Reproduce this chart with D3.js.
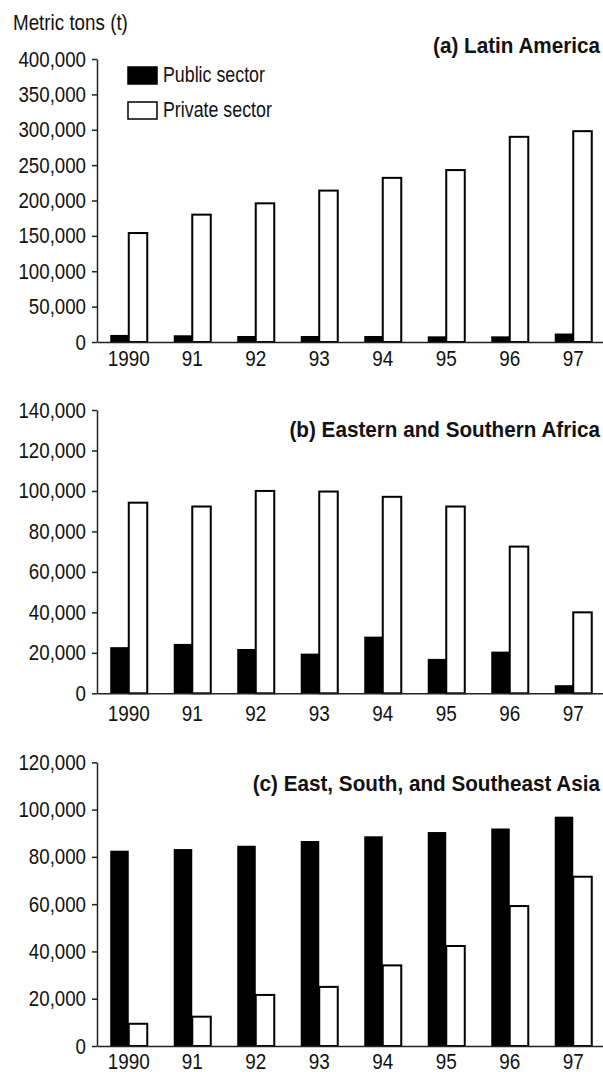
<!DOCTYPE html>
<html>
<head>
<meta charset="utf-8">
<script src="https://cdn.jsdelivr.net/npm/d3@7"></script>
<style>
  html, body { margin: 0; padding: 0; background: #fff; }
  svg { display: block; }
  text { font-family: "Liberation Sans", Arial, sans-serif; fill: #111; }
</style>
</head>
<body>
<svg id="chart" width="603" height="1072"></svg>
<script>
// Fertilizer deliveries by sector, metric tons
const years = ["1990", "91", "92", "93", "94", "95", "96", "97"];
const sectors = ["Public sector", "Private sector"];

const latinPublic   = [10000, 9500, 8500, 8500, 8500, 8000, 8000, 12000];
const latinPrivate  = [154000, 180000, 196000, 214000, 232000, 243000, 290000, 298000];

const africaPublic  = [22800, 24400, 21900, 19600, 28000, 17000, 20600, 4000];
const africaPrivate = [94200, 92300, 100000, 99700, 97100, 92300, 72500, 40000];

const asiaPublic    = [82600, 83300, 84700, 86700, 88700, 90500, 92000, 97000];
const asiaPrivate   = [9400, 12400, 21600, 25000, 34100, 42300, 59200, 71600];

const latinTicks  = [0, 50000, 100000, 150000, 200000, 250000, 300000, 350000, 400000];
const africaTicks = [0, 20000, 40000, 60000, 80000, 100000, 120000, 140000];
const asiaTicks   = [0, 20000, 40000, 60000, 80000, 100000, 120000];

const panels = [
  { title: "(a) Latin America", pub: latinPublic, priv: latinPrivate, ticks: latinTicks,
    top: 59, zero: 342, titleY: 53, yearY: 24 },
  { title: "(b) Eastern and Southern Africa", pub: africaPublic, priv: africaPrivate, ticks: africaTicks,
    top: 410, zero: 693.3, titleY: 437, yearY: 28 },
  { title: "(c) East, South, and Southeast Asia", pub: asiaPublic, priv: asiaPrivate, ticks: asiaTicks,
    top: 762.3, zero: 1046, titleY: 791, yearY: 23 }
];

const svg = d3.select("#chart");
const axisX = 97, rightX = 605;
const fmt = d3.format(",");
const FONT = 22;

// Narrow the glyphs horizontally to get a condensed face
function condense(sel, k, xPos) {
  sel.attr("transform", `scale(${k},1)`).attr("x", xPos / k);
}

const x = d3.scaleBand().domain(years).range([axisX, rightX])
  .paddingInner(0.417).paddingOuter(0.2085);
const xs = d3.scaleBand().domain(["pub", "priv"]).range([0, x.bandwidth()]);

panels.forEach(p => {
  const y = d3.scaleLinear()
    .domain([0, d3.max(p.ticks)])
    .range([p.zero, p.top]);
  const g = svg.append("g");

  const rows = years.map((yr, i) => ({ yr, pub: p.pub[i], priv: p.priv[i] }));

  // public sector: solid black
  g.selectAll("rect.pub").data(rows).join("rect")
    .attr("class", "pub")
    .attr("x", d => x(d.yr) + xs("pub"))
    .attr("width", xs.bandwidth())
    .attr("y", d => y(d.pub))
    .attr("height", d => p.zero - y(d.pub))
    .attr("fill", "#000");

  // private sector: outlined white
  g.selectAll("rect.priv").data(rows).join("rect")
    .attr("class", "priv")
    .attr("x", d => x(d.yr) + xs("priv"))
    .attr("width", xs.bandwidth())
    .attr("y", d => y(d.priv))
    .attr("height", d => p.zero - y(d.priv))
    .attr("fill", "#fff")
    .attr("stroke", "#000")
    .attr("stroke-width", 2);

  // y axis
  const yAxis = d3.axisLeft(y).tickValues(p.ticks).tickFormat(fmt)
    .tickSize(5).tickSizeOuter(0).tickPadding(6);
  const ya = g.append("g").attr("transform", `translate(${axisX},0)`).call(yAxis);
  ya.attr("font-family", null).attr("font-size", null);
  ya.select(".domain").attr("stroke", "#222").attr("stroke-width", 1.5);
  ya.selectAll(".tick line").attr("stroke", "#222").attr("stroke-width", 1.5);
  ya.selectAll(".tick text").attr("font-size", FONT).attr("fill", "#111")
    .call(condense, 0.85, -11);

  // x axis
  const xAxis = d3.axisBottom(x).tickSize(0).tickPadding(0);
  const xa = g.append("g").attr("transform", `translate(0,${p.zero})`).call(xAxis);
  xa.attr("font-family", null).attr("font-size", null);
  xa.select(".domain").attr("stroke", "#222").attr("stroke-width", 1.5);
  xa.selectAll(".tick text").attr("font-size", FONT).attr("fill", "#111")
    .attr("y", p.yearY).attr("dy", 0)
    .call(condense, 0.86, 0);

  // panel title
  g.append("text")
    .attr("y", p.titleY)
    .attr("text-anchor", "end")
    .attr("font-size", FONT).attr("font-weight", "bold")
    .text(p.title)
    .call(condense, 0.94, 600);
});

// unit label
svg.append("text").attr("y", 30)
  .attr("font-size", FONT).text("Metric tons (t)")
  .call(condense, 0.855, 13);

// legend
const legend = svg.append("g");
const legendRows = [
  { label: sectors[0], fill: "#000", y: 67 },
  { label: sectors[1], fill: "#fff", y: 102 }
];
legend.selectAll("rect").data(legendRows).join("rect")
  .attr("x", 128).attr("y", d => d.y)
  .attr("width", 29).attr("height", 17)
  .attr("fill", d => d.fill).attr("stroke", "#000").attr("stroke-width", 1.5);
legend.selectAll("text").data(legendRows).join("text")
  .attr("y", d => d.y + 15)
  .attr("font-size", FONT).text(d => d.label)
  .call(condense, 0.81, 163);
</script>
</body>
</html>
